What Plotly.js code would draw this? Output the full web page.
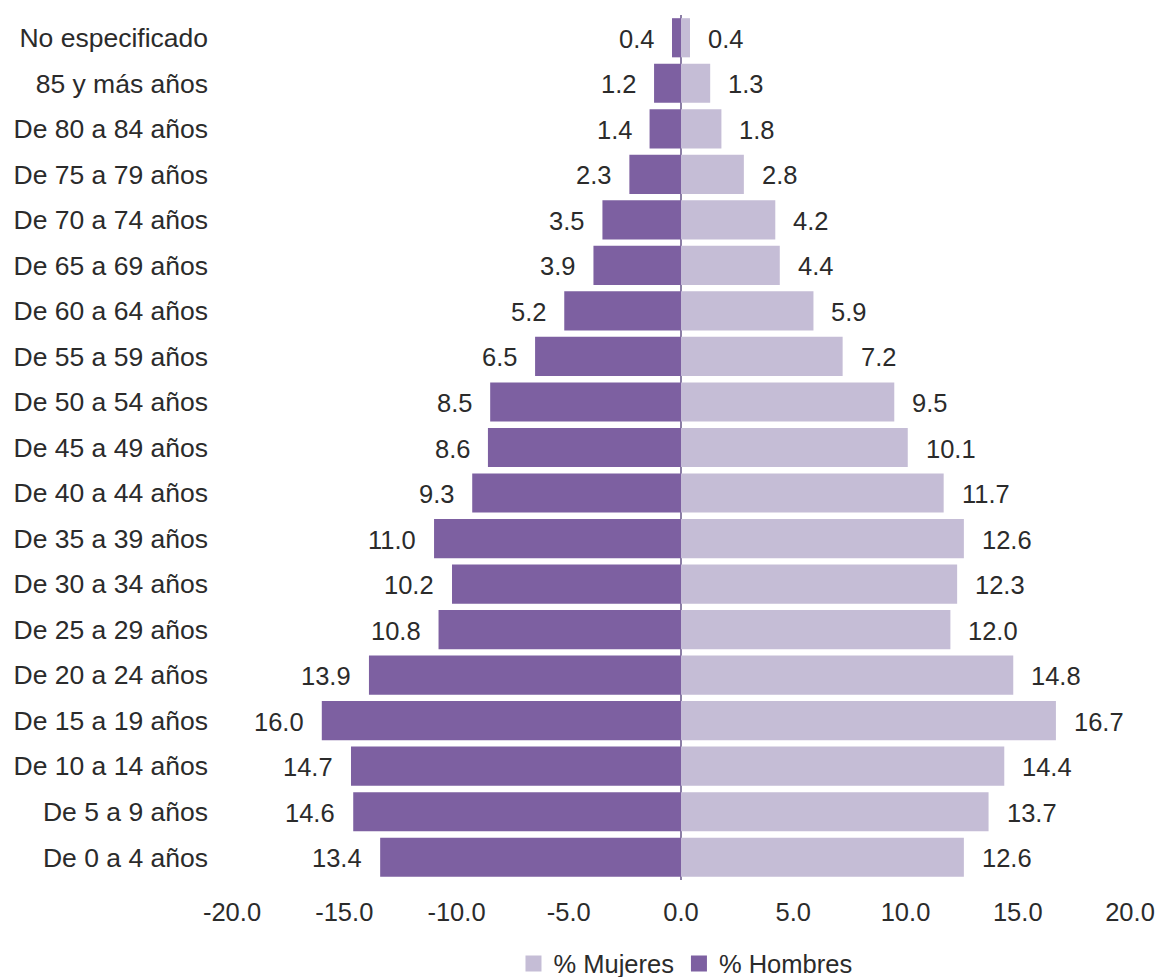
<!DOCTYPE html>
<html>
<head>
<meta charset="utf-8">
<script src="https://cdn.plot.ly/plotly-3.0.1.min.js"></script>
<style>
  html, body { margin: 0; padding: 0; background: #ffffff; }
  #chart { width: 1158px; height: 977px; }
</style>
</head>
<body>
<div id="chart"></div>
<script>
// Categories from bottom to top
const categories = [
  "De 0 a 4 años", "De 5 a 9 años", "De 10 a 14 años", "De 15 a 19 años",
  "De 20 a 24 años", "De 25 a 29 años", "De 30 a 34 años", "De 35 a 39 años",
  "De 40 a 44 años", "De 45 a 49 años", "De 50 a 54 años", "De 55 a 59 años",
  "De 60 a 64 años", "De 65 a 69 años", "De 70 a 74 años", "De 75 a 79 años",
  "De 80 a 84 años", "85 y más años", "No especificado"
];
const hombres = [13.4, 14.6, 14.7, 16.0, 13.9, 10.8, 10.2, 11.0, 9.3, 8.6, 8.5, 6.5, 5.2, 3.9, 3.5, 2.3, 1.4, 1.2, 0.4];
const mujeres = [12.6, 13.7, 14.4, 16.7, 14.8, 12.0, 12.3, 12.6, 11.7, 10.1, 9.5, 7.2, 5.9, 4.4, 4.2, 2.8, 1.8, 1.3, 0.4];
const xTickValues = [-20, -15, -10, -5, 0, 5, 10, 15, 20];
const xTickLabels = xTickValues.map(v => v.toFixed(1));

const nameMujeres = "% Mujeres";
const nameHombres = "% Hombres";
const colorMujeres = "#c5bdd6";
const colorHombres = "#7d60a1";
const fontFamily = "'Liberation Sans', Arial, sans-serif";
const textColor = "#2b2b2b";

const hombresNeg = hombres.map(v => -v);

const traces = [
  {
    type: "bar", orientation: "h", name: nameMujeres,
    x: mujeres, y: categories,
    marker: { color: colorMujeres },
    showlegend: false, hoverinfo: "y+x"
  },
  {
    type: "bar", orientation: "h", name: nameHombres,
    x: hombresNeg, y: categories,
    marker: { color: colorHombres },
    customdata: hombres,
    hovertemplate: "%{y}: %{customdata}<extra></extra>",
    showlegend: false
  },
  // legend entries
  {
    type: "scatter", mode: "markers", name: nameMujeres,
    x: [null], y: [null],
    marker: { symbol: "square", color: colorMujeres, size: 16 },
    showlegend: true, hoverinfo: "skip"
  },
  {
    type: "scatter", mode: "markers", name: nameHombres,
    x: [null], y: [null],
    marker: { symbol: "square", color: colorHombres, size: 16 },
    showlegend: true, hoverinfo: "skip"
  }
];

const annotations = [];
categories.forEach((c, i) => {
  annotations.push({
    x: hombresNeg[i], y: c, xref: "x", yref: "y",
    text: hombres[i].toFixed(1), showarrow: false,
    xanchor: "right", yanchor: "middle", xshift: -16, yshift: -1,
    font: { family: fontFamily, size: 25.5, color: textColor }
  });
  annotations.push({
    x: mujeres[i], y: c, xref: "x", yref: "y",
    text: mujeres[i].toFixed(1), showarrow: false,
    xanchor: "left", yanchor: "middle", xshift: 16, yshift: -1,
    font: { family: fontFamily, size: 25.5, color: textColor }
  });
});

const layout = {
  width: 1158, height: 977,
  margin: { l: 232, r: 28, t: 15, b: 97, autoexpand: false },
  paper_bgcolor: "#ffffff", plot_bgcolor: "#ffffff",
  barmode: "relative",
  bargap: 0.14,
  font: { family: fontFamily, size: 25, color: textColor },
  xaxis: {
    range: [-20, 20],
    tickvals: xTickValues,
    ticktext: xTickLabels,
    showgrid: false,
    zeroline: true, zerolinecolor: "#8c7fa6", zerolinewidth: 1.5,
    layer: "above traces",
    showline: false,
    ticks: "",
    ticklabelstandoff: 14,
    automargin: false,
    tickfont: { family: fontFamily, size: 25.5, color: textColor },
    fixedrange: true
  },
  yaxis: {
    type: "category",
    categoryorder: "array", categoryarray: categories,
    showgrid: false, zeroline: false, showline: false,
    ticks: "",
    ticklabelstandoff: 23,
    automargin: false,
    tickfont: { family: fontFamily, size: 26.5, color: textColor },
    fixedrange: true
  },
  legend: {
    orientation: "h",
    x: 0.505, xanchor: "center",
    y: -0.097, yanchor: "middle",
    font: { family: fontFamily, size: 25.5, color: textColor },
    itemwidth: 30,
    bgcolor: "rgba(0,0,0,0)"
  },
  annotations: annotations,
  showlegend: true
};

Plotly.newPlot("chart", traces, layout, { displayModeBar: false, staticPlot: true });
</script>
</body>
</html>
